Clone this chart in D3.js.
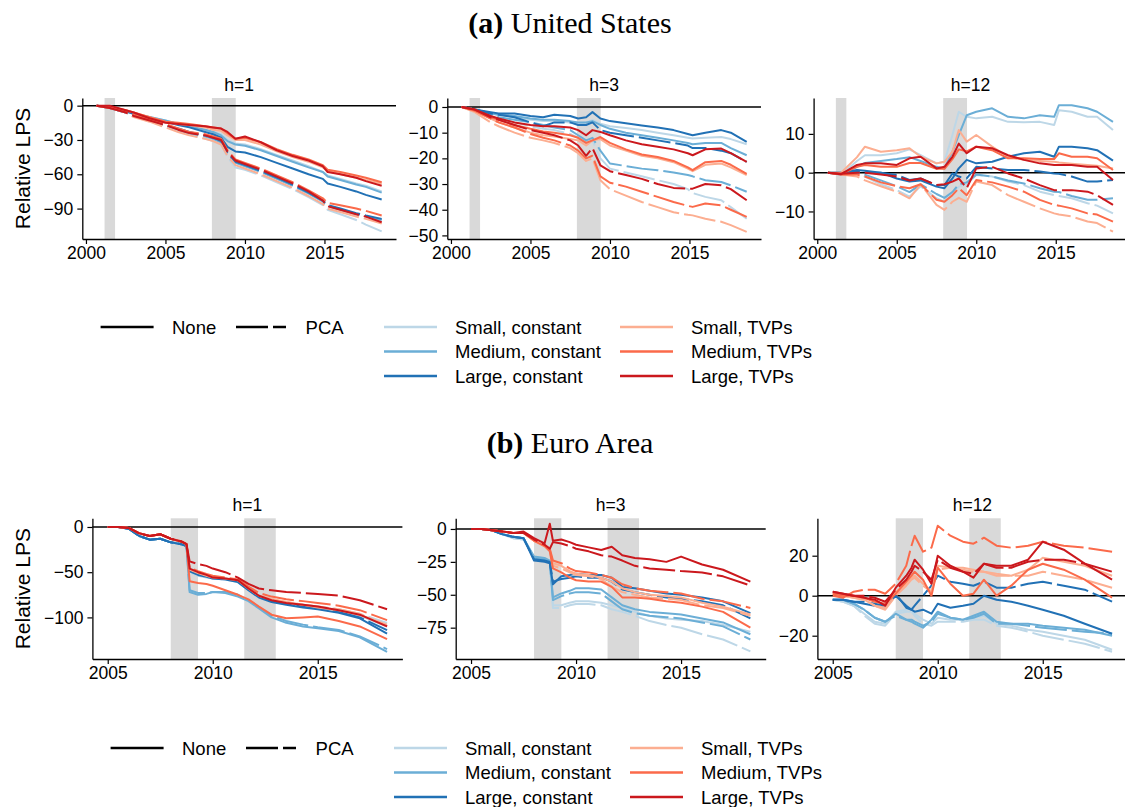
<!DOCTYPE html>
<html>
<head>
<meta charset="utf-8">
<script src="https://cdn.jsdelivr.net/npm/d3@7"></script>
<style>
  body { margin: 0; background: #fff; }
  svg text { font-family: "Liberation Sans", Arial, sans-serif; fill: #000; }
  .title text, text.title { font-family: "Liberation Serif", "Times New Roman", serif; }
</style>
</head>
<body>
<svg id="chart" width="1125" height="807"></svg>
<script>
// ---- data ----
var usDates = [2000.67, 2001.5, 2002.5, 2003.0, 2004.0, 2005.0, 2005.8, 2006.5, 2007.5, 2008.0, 2008.5, 2008.9,
  2009.4, 2010.0, 2011.0, 2012.0, 2013.0, 2014.0, 2014.9, 2015.2, 2016.0, 2017.0, 2017.6, 2018.6];
var euDates = [2005.0, 2005.5, 2006.0, 2006.5, 2007.0, 2007.5, 2008.0, 2008.5, 2008.75, 2008.9, 2009.3, 2009.7,
  2010.0, 2010.6, 2011.2, 2011.7, 2012.2, 2012.8, 2013.5, 2014.3, 2015.0, 2016.0, 2017.0, 2018.3];

var models = ["Small, constant", "Medium, constant", "Large, constant", "Small, TVPs", "Medium, TVPs", "Large, TVPs"];
var reductions = ["None", "PCA"];
var horizons = ["h=1", "h=3", "h=12"];

var usRecessions = [[2001.17, 2001.83], [2007.92, 2009.42]];
var euRecessions = [[2008.0, 2009.3], [2011.5, 2013.0]];

var usXTicks = [2000, 2005, 2010, 2015];
var euXTicks = [2005, 2010, 2015];
var usYTicks = [[0, -30, -60, -90], [0, -10, -20, -30, -40, -50], [-10, 0, 10]];
var euYTicks = [[0, -50, -100], [0, -25, -50, -75], [-20, 0, 20]];

// each block: one array per model, same order as `models`
var us1None = [
  [0, -1, -5, -7, -10, -13, -16, -18, -21, -23, -25, -30, -33, -34, -38, -43, -48, -53, -58, -61, -64, -68, -70, -75],
  [0, -1, -5, -7, -10, -13, -16, -18, -21, -23, -26, -31, -34, -35, -39, -44, -49, -54, -58, -62, -65, -69, -71, -76],
  [0, -1, -5, -7, -11, -14, -17, -19, -23, -25, -28, -36, -40, -41, -45, -50, -55, -60, -64, -68, -71, -75, -78, -82],
  [0, -1, -4, -6, -10, -14, -16, -17, -19, -21, -22, -26, -30, -30, -34, -40, -45, -49, -54, -57, -60, -63, -65, -68],
  [0, -1, -4, -6, -10, -14, -15, -16, -18, -19, -20, -24, -29, -28, -32, -38, -43, -47, -52, -56, -58, -61, -63, -67],
  [0, 0, -4, -6, -11, -15, -16, -17, -18, -19, -20, -23, -29, -27, -32, -39, -44, -48, -53, -58, -60, -63, -66, -70]
];
var us1Pca = [
  [0, -2, -6, -9, -13, -18, -22, -25, -29, -31, -34, -45, -54, -56, -61, -67, -73, -80, -87, -91, -95, -100, -104, -110],
  [0, -2, -6, -9, -13, -17, -21, -24, -27, -29, -32, -42, -50, -53, -58, -64, -70, -77, -84, -88, -91, -95, -97, -100],
  [0, -2, -6, -9, -13, -17, -20, -23, -26, -28, -31, -41, -49, -52, -57, -63, -69, -76, -83, -87, -90, -94, -96, -99],
  [0, -2, -6, -10, -14, -19, -23, -26, -29, -31, -34, -44, -52, -55, -60, -66, -72, -79, -86, -90, -93, -97, -99, -103],
  [0, -2, -5, -8, -12, -16, -20, -23, -25, -27, -29, -39, -47, -50, -55, -61, -67, -74, -81, -85, -87, -90, -92, -96],
  [0, -2, -6, -9, -13, -17, -21, -24, -26, -28, -30, -40, -48, -51, -56, -62, -68, -75, -83, -88, -91, -95, -97, -102]
];
var us3None = [
  [0, -1, -2.5, -3, -4, -5, -5.5, -5.5, -6, -6.5, -6, -5, -6.5, -7.5, -8.2, -9, -10, -11, -12, -12.3, -12, -11.7, -12.5, -14.5],
  [0, -1, -2.5, -3, -3.5, -4.5, -5, -5, -5.5, -6, -6, -5.5, -7, -8.5, -10, -11, -12, -13, -14, -14.5, -14, -14, -16, -18.8],
  [0, -1, -2, -2.5, -2.5, -3.5, -4, -3, -3.5, -4.5, -4, -2, -4.5, -5.5, -6.3, -7.2, -8, -9, -10.5, -11, -10, -9, -10, -13.6],
  [0, -1.5, -4.5, -6, -8, -10, -11, -11.5, -12.5, -13, -15, -13, -12.5, -15, -17, -19, -20, -21.5, -24, -25, -22.5, -22, -23.5, -26.5],
  [0, -1, -4, -5, -7, -8.5, -9.5, -10, -11, -12, -14, -13, -11.7, -14, -16.5, -18.5, -19.5, -21, -23.5, -24.6, -21.5, -21, -22.5, -26],
  [0, -1, -3.5, -4.5, -6, -7, -7.5, -7.5, -8, -9, -11, -9, -9.7, -11, -13, -14.5, -15.5, -16.5, -18, -18.8, -16.5, -16.2, -18, -21.4]
];
var us3Pca = [
  [0, -1, -3.5, -4.5, -6, -7.5, -8.5, -9, -10.5, -12, -14, -13, -20, -24, -25.5, -27, -28.5, -30, -32, -33.5, -35, -36.3, -39, -43.5],
  [0, -1, -3, -4, -5, -6, -7, -8, -9, -11, -13, -12, -17, -22, -23, -24, -24.6, -25.5, -26.5, -27, -28.5, -29.2, -30.5, -33],
  [0, -1, -2.5, -3, -4, -6, -7.5, -6, -6, -7, -7, -6, -9, -10, -11, -12, -13, -14, -15, -16, -16, -17, -18, -21.4],
  [0, -2, -6, -7.5, -10, -12, -13, -14, -16, -18, -21, -20, -28.5, -32, -34.5, -37, -39, -41, -42, -42.2, -43.5, -44.7, -46, -48.6],
  [0, -1.5, -4.5, -6, -8, -10.5, -12, -13, -15, -17, -20, -19, -27, -29.5, -31, -33, -35, -37, -38.5, -38.9, -37.6, -38.3, -40, -42.8],
  [0, -1, -4, -5, -7, -9, -10, -11, -13, -15, -19, -16, -22.7, -25, -26.5, -28, -30, -31.5, -31.8, -31.8, -30, -30.5, -32, -36.3]
];
var us12None = [
  [0, -0.5, 3, 4.5, 4.5, 5, 6, 4.5, 2.4, 2.8, 9.7, 15.7, 14.4, 14, 14.4, 13.1, 13, 13.1, 12.3, 16.1, 15.7, 14.4, 14.4, 11],
  [0, -0.5, 1.5, 2.5, 3, 3.5, 4, 3, 1.5, 1.1, 5.4, 9.7, 14.8, 15.7, 16.6, 14.4, 14, 14.8, 14.4, 17.4, 17.4, 16.6, 15.7, 13.1],
  [0, 0, 0.7, 0.5, 0, -1.5, -2.3, -2, -3.6, -4, -1.5, 1.1, 3.3, 2.4, 2.8, 4.1, 5, 5.4, 4.1, 6.7, 6.7, 6.3, 5.8, 3.1],
  [0, 0, 4, 6.7, 5.4, 5.8, 6.3, 4.1, 2.4, 2.8, 5.4, 11, 8, 9.7, 6.7, 4.1, 3.3, 3, 2.8, 2.6, 2.3, 2, 1.8, 1.1],
  [0, -0.3, 1.5, 2, 1.5, 1.5, 2.5, 2.5, 1, 1, 3.5, 6, 5.5, 6.7, 5.8, 3.7, 3.7, 3.5, 3.5, 5, 4.1, 4.1, 3.7, 0.7],
  [0, -0.4, 2, 2.4, 2.4, 2, 3.7, 4.1, 1.1, 1.5, 4.1, 7.5, 5, 6.7, 6.3, 4.5, 3.3, 2.4, 2, 2, 2, 1.5, 1.5, -1.9]
];
var us12Pca = [
  [0, -0.5, 0, -1, -3, -4.5, -6.2, -3.5, -6.6, -7.5, -5.5, -3.6, -3, -0.6, -1, -2.3, -3.2, -4.9, -5.8, -6, -6.6, -7.9, -8.5, -10.5],
  [0, -0.5, 0, -0.5, -2, -3.5, -5, -3, -5.5, -6.5, -5, -3, -2.5, -0.5, -1, -2, -2.8, -4, -4.9, -5, -6, -7, -7, -6.6],
  [0, 0, 0.3, 0, 0, -0.6, -1.9, -1.5, -3.2, -3.2, -0.2, -1, -1.5, 1.5, 1.1, 0.7, 0.7, 0.3, -0.2, -0.3, -1, -2.3, -2.3, -1.9],
  [0, -0.5, -1, -2, -3.5, -4.9, -6.6, -3, -8.3, -9.6, -7.5, -6.5, -7.5, -2.3, -3.2, -5.8, -7.5, -9.2, -10.5, -10.8, -11.3, -12.6, -13, -15.2],
  [0, -0.5, -0.5, -1, -2.5, -3.5, -4, -3, -7, -7.5, -5.8, -4, -5.8, -1.9, -2.5, -3.6, -4.9, -7, -8.3, -8.5, -9.2, -10.5, -10.8, -12.6],
  [0, -0.3, 0, 0, -0.5, -1, -2, -1.5, -3.2, -3, -2.3, -1.5, -4, 1.1, 1.5, -0.2, -1.5, -3.2, -4.5, -4.5, -4.5, -4.9, -5.8, -8.3]
];

var eu1None = [
  [0, 0, -2, -10, -14, -13, -17, -19, -21, -48, -52, -55, -57, -57, -59, -69, -77, -81, -84, -87, -90, -93, -98, -110],
  [0, 0, -2, -10, -14, -13, -17, -19, -21, -72, -75, -74, -72, -73, -77, -82, -90, -100, -106, -110, -112, -115, -122, -138],
  [0, 0, -2, -10, -14, -13, -17, -19, -21, -49, -53, -55, -57, -58, -61, -70, -78, -83, -86, -89, -91, -95, -101, -118],
  [0, 0, -1, -7, -10, -8, -13, -16, -19, -47, -51, -54, -56, -57, -59, -68, -76, -80, -83, -86, -89, -92, -97, -108],
  [0, 0, -1, -7, -10, -8, -13, -16, -19, -60, -62, -63, -65, -70, -75, -80, -88, -97, -101, -100, -99, -104, -110, -124],
  [0, 0, -1, -7, -10, -8, -13, -16, -19, -46, -50, -53, -56, -57, -59, -68, -76, -81, -84, -86, -88, -92, -97, -110]
];
var eu1Pca = [
  [0, 0, -2, -10, -14, -13, -17, -19, -21, -50, -54, -56, -57, -58, -61, -70, -77, -81, -84, -86, -88, -91, -96, -106],
  [0, 0, -2, -10, -14, -13, -17, -19, -21, -70, -73, -73, -72, -72, -75, -81, -89, -98, -104, -108, -111, -114, -121, -135],
  [0, 0, -2, -10, -14, -13, -17, -19, -21, -48, -52, -54, -56, -57, -60, -69, -77, -82, -85, -88, -90, -94, -100, -114],
  [0, 0, -1, -7, -10, -8, -13, -16, -19, -46, -50, -53, -55, -56, -59, -68, -76, -80, -83, -86, -88, -91, -96, -110],
  [0, 0, -1, -7, -10, -8, -13, -16, -19, -45, -49, -52, -54, -56, -58, -66, -73, -77, -80, -82, -84, -87, -92, -103],
  [0, 0, -1, -7, -10, -8, -13, -16, -19, -38, -41, -43, -46, -50, -56, -63, -68, -70, -72, -73, -74, -76, -81, -91]
];
var eu3None = [
  [0, 0, -1, -4, -7, -8, -22, -23, -25, -58, -58, -56, -55, -55, -56, -58, -60, -63, -66, -68, -69, -70, -73, -78],
  [0, 0, -1, -4, -6, -7, -21, -22, -24, -52, -49, -47, -45, -45, -46, -52, -58, -61, -63, -64, -65, -68, -71, -80],
  [0, 0, -1, -4, -6, -7, -24, -25, -26, -42, -36, -35, -34, -35, -35, -37, -44, -45, -47, -49, -50, -52, -55, -64],
  [0, 0, -1, -2, -3, -3, -9, -13, -16, -26, -28, -32, -34, -35, -37, -40, -45, -48, -50, -51, -52, -56, -59, -65],
  [0, 0, -1, -2, -3, -3, -9, -13, -17, -30, -33, -37, -39, -40, -40, -44, -52, -52, -53, -55, -56, -59, -63, -75],
  [0, 0, -1, -2, -3, -2, -7, -11, 4, -9, -8, -10, -12, -14, -16, -13.5, -20, -22, -23, -25, -21, -27, -31, -40]
];
var eu3Pca = [
  [0, 0, -1, -4, -7, -8, -22, -24, -26, -60, -60, -58, -57, -57, -58, -61, -63, -66, -70, -73, -75, -80, -84, -93],
  [0, 0, -1, -4, -6, -7, -22, -23, -25, -54, -51, -49, -48, -48, -49, -55, -61, -64, -66, -67, -68, -71, -74, -84],
  [0, 0, -1, -4, -6, -7, -23, -24, -25, -40, -38, -37, -36, -37, -37, -40, -46, -48, -50, -52, -53, -55, -58, -68],
  [0, 0, -1, -2, -3, -3, -9, -13, -16, -28, -30, -33, -35, -36, -38, -44, -48, -50, -52, -53, -54, -58, -60, -66],
  [0, 0, -1, -2, -3, -3, -8, -12, -15, -24, -26, -30, -32, -33, -35, -37, -42, -45, -47, -48, -49, -53, -55, -60],
  [0, 0, -1, -2, -3, -3, -8, -12, -15, -10, -11, -13, -15, -17, -20, -21, -24, -28, -30, -31, -32, -33, -36, -43]
];
var eu12None = [
  [-2, -3, -5, -9, -13, -14, -8, -7, -6, -9, -12, -14, -11, -12, -12, -11, -10, -14, -15, -17, -18, -20, -22, -27],
  [-2, -2, -4, -7, -11, -13, -9, -12, -13, -14, -16, -12, -8, -11, -12, -10, -8, -13, -14, -14, -15, -16, -17, -20],
  [-2, -2, -3, -4, -5, -6, 0, -5, -7, -8, -7, -9, -4, -6, -5, -4, 0, -2, -3, -5, -7, -10, -14, -19],
  [1, 0, -1, -2, -5, -6, 2, 6, 9, 10, 6, 2, 15, 14, 14, 13, 12, 11, 10, 13, 19, 17, 15, 10],
  [1, 0, 0, -1, -3, -4, 1, 7, 10, 12, 8, 0, 14, 6, 0, 1, 8, 0, 5, 13, 16, 13, 8, -1],
  [2, 1, 0, -1, -2, -5, 4, 10, 14, 18, 13, 6, 20, 15, 12, 9, 16, 15, 15, 18, 27, 23, 16, 8]
];
var eu12Pca = [
  [-2, -3, -5, -10, -14, -15, -9, -8, -8, -10, -14, -15, -13, -13, -13, -12, -12, -15, -16, -18, -20, -22, -24, -28],
  [-2, -2, -4, -7, -11, -13, -10, -12, -12, -13, -15, -13, -9, -11, -12, -11, -9, -14, -14, -15, -16, -17, -18, -19],
  [-2, -2, -3, -3, -4, -5, 1, -6, -7, -5, 0, 5, 10, 7, 6, 5, 7, 4, 4, 6, 7, 5, 3, -3],
  [1, 0, -1, -2, -5, -7, 0, 5, 8, 9, 5, 2, 13, 14, 13, 12, 12, 10, 10, 10, 12, 10, 8, 4],
  [0, -1, 2, 3, 3, 1, 6, 15, 25, 30, 22, 24, 35, 30, 27, 26, 29, 25, 24, 25, 27, 25, 24, 22],
  [2, 1, 0, 0, -1, -3, 3, 8, 12, 15, 12, 8, 18, 14, 12, 11, 16, 14, 14, 17, 18, 18, 16, 12]
];

// ---- styling ----
var modelColors = ["#bdd7e7", "#6baed6", "#2171b5", "#fcae91", "#fb6a4a", "#cb181d"];
var dashPattern = "32,5";
var lineWidth = 2;

var svg = d3.select("#chart");

var rows = [
  { key: "us", title: ["(a)", "United States"], titleY: 33, top: 98, bottom: 239,
    x0s: [82.3, 447.3, 813.6], width: 313.7, xDom: [1999.77, 2019.5],
    yDoms: [[-116.6, 6.7], [-51.4, 3.5], [-17.1, 19.25]],
    dates: usDates, recessions: usRecessions, xTicks: usXTicks, yTicks: usYTicks,
    none: [us1None, us3None, us12None], pca: [us1Pca, us3Pca, us12Pca],
    legendY: 327, legendDx: 0 },
  { key: "eu", title: ["(b)", "Euro Area"], titleY: 453, top: 518.3, bottom: 659,
    x0s: [92.4, 455.7, 817.4], width: 310, xDom: [2004.27, 2019.03],
    yDoms: [[-146, 9.6], [-98.8, 8.1], [-31.65, 38.7]],
    dates: euDates, recessions: euRecessions, xTicks: euXTicks, yTicks: euYTicks,
    none: [eu1None, eu3None, eu12None], pca: [eu1Pca, eu3Pca, eu12Pca],
    legendY: 748, legendDx: 10 }
];

function fmtTick(d) {
  return d < 0 ? "\u2212" + Math.abs(d) : String(d);
}

rows.forEach(function (row) {
  // row title
  var t = svg.append("text")
    .attr("class", "title")
    .attr("x", 570)
    .attr("y", row.titleY)
    .attr("text-anchor", "middle")
    .style("font-size", "30px");
  t.append("tspan").attr("font-weight", "bold").text(row.title[0]);
  t.append("tspan").text(" " + row.title[1]);

  horizons.forEach(function (h, j) {
    var x0 = row.x0s[j];
    var x = d3.scaleLinear().domain(row.xDom).range([x0, x0 + row.width]);
    var y = d3.scaleLinear().domain(row.yDoms[j]).range([row.bottom, row.top]);
    var g = svg.append("g").attr("class", "panel-" + row.key + j);

    g.selectAll("rect.rec")
      .data(row.recessions)
      .enter()
      .append("rect")
      .attr("class", "rec")
      .attr("x", function (d) { return x(d[0]); })
      .attr("width", function (d) { return x(d[1]) - x(d[0]); })
      .attr("y", row.top)
      .attr("height", row.bottom - row.top)
      .attr("fill", "#d9d9d9");

    g.append("line")
      .attr("x1", x0)
      .attr("x2", x0 + row.width)
      .attr("y1", y(0))
      .attr("y2", y(0))
      .attr("stroke", "#000")
      .attr("stroke-width", 1.5);

    var line = d3.line()
      .x(function (d, i) { return x(row.dates[i]); })
      .y(function (d) { return y(d); });

    models.forEach(function (m, k) {
      g.append("path")
        .datum(row.none[j][k])
        .attr("d", line)
        .attr("fill", "none")
        .attr("stroke", modelColors[k])
        .attr("stroke-width", lineWidth)
        .attr("stroke-linejoin", "round");
      g.append("path")
        .datum(row.pca[j][k])
        .attr("d", line)
        .attr("fill", "none")
        .attr("stroke", modelColors[k])
        .attr("stroke-width", lineWidth)
        .attr("stroke-linejoin", "round")
        .style("stroke-dasharray", dashPattern);
    });

    var xAxis = g.append("g")
      .attr("transform", "translate(0," + row.bottom + ")")
      .call(d3.axisBottom(x).tickValues(row.xTicks).tickFormat(d3.format("d"))
        .tickSize(5).tickPadding(3).tickSizeOuter(0));
    var yAxis = g.append("g")
      .attr("transform", "translate(" + x0 + ",0)")
      .call(d3.axisLeft(y).tickValues(row.yTicks[j]).tickFormat(fmtTick)
        .tickSize(5).tickPadding(4).tickSizeOuter(0));
    [xAxis, yAxis].forEach(function (a) {
      a.attr("font-size", 17.5).attr("font-family", "Liberation Sans, Arial, sans-serif");
      a.select(".domain").attr("stroke-width", 1.3);
      a.selectAll(".tick line").attr("stroke-width", 1.2);
    });

    g.append("text")
      .attr("x", x0 + row.width / 2)
      .attr("y", row.top - 7)
      .attr("text-anchor", "middle")
      .style("font-size", "17.5px")
      .text(h);

    if (j === 0) {
      g.append("text")
        .attr("transform", "translate(22," + (row.top + row.bottom) / 2 + ") rotate(-90)")
        .attr("text-anchor", "middle")
        .attr("dominant-baseline", "central")
        .style("font-size", "21px")
        .text("Relative LPS");
    }
  });

  // legend
  var lg = svg.append("g").attr("transform", "translate(" + row.legendDx + "," + row.legendY + ")");
  var styleCols = [{ x1: 100.6, x2: 153.6, tx: 172 }, { x1: 236, x2: 286, tx: 305.6 }];
  reductions.forEach(function (r, i) {
    var c = styleCols[i];
    lg.append("line")
      .attr("x1", c.x1).attr("x2", c.x2).attr("y1", 0).attr("y2", 0)
      .attr("stroke", "#000").attr("stroke-width", 2.5)
      .style("stroke-dasharray", i === 1 ? dashPattern : null);
    lg.append("text").attr("x", c.tx).attr("y", 6.5).style("font-size", "18.5px").text(r);
  });
  var modelCols = [{ x1: 384, x2: 437, tx: 455 }, { x1: 620, x2: 673, tx: 691 }];
  models.forEach(function (m, k) {
    var c = modelCols[Math.floor(k / 3)];
    var yy = (k % 3) * 24.5;
    lg.append("line")
      .attr("x1", c.x1).attr("x2", c.x2).attr("y1", yy).attr("y2", yy)
      .attr("stroke", modelColors[k]).attr("stroke-width", 2.5);
    lg.append("text").attr("x", c.tx).attr("y", yy + 6.5).style("font-size", "18.5px").text(m);
  });
});
</script>
</body>
</html>
